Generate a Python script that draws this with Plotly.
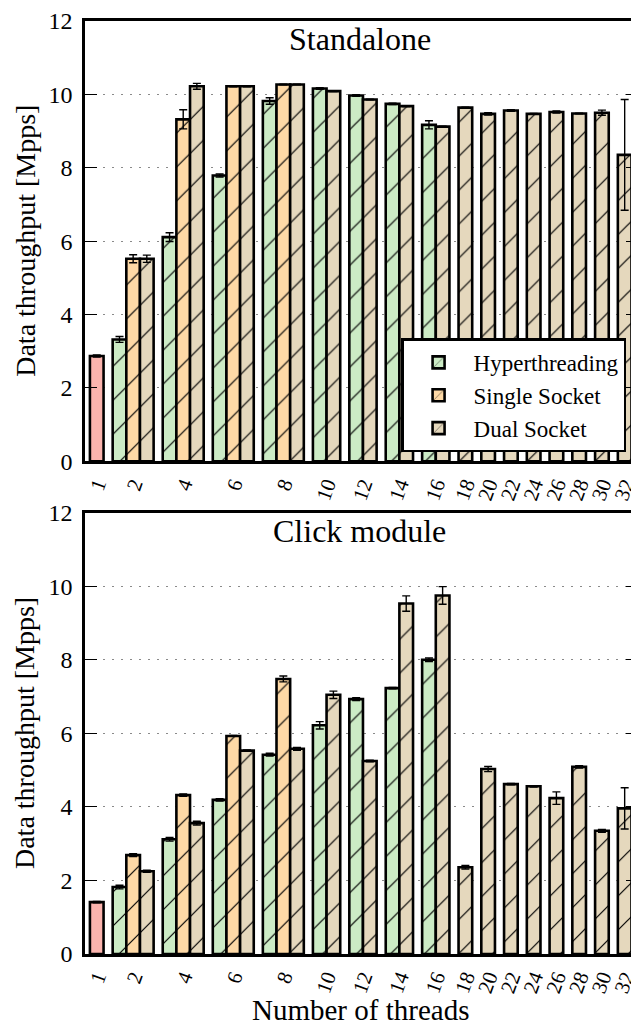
import plotly.graph_objects as go

# ---------------- data ----------------
threads = [1, 2, 4, 6, 8, 10, 12, 14, 16, 18, 20, 22, 24, 26, 28, 30, 32]
tick_labels = [str(t) for t in threads]

series_names = ["Single core", "Hyperthreading", "Single Socket", "Dual Socket"]
series_colors = ["#fbb4ae", "#ccebc5", "#fed9a6", "#e5d8bd"]
series_hatched = [False, True, True, True]

N = None
# Standalone panel
sa_single = [2.87, N, N, N, N, N, N, N, N, N, N, N, N, N, N, N, N]
sa_single_err = [0.03, N, N, N, N, N, N, N, N, N, N, N, N, N, N, N, N]
sa_ht = [N, 3.32, 6.11, 7.79, 9.82, 10.16, 9.97, 9.74, 9.17, N, N, N, N, N, N, N, N]
sa_ht_err = [N, 0.08, 0.12, 0.04, 0.09, 0.02, 0.02, 0.02, 0.11, N, N, N, N, N, N, N, N]
sa_ss = [N, 5.52, 9.32, 10.22, 10.27, N, N, N, N, N, N, N, N, N, N, N, N]
sa_ss_err = [N, 0.11, 0.26, 0.01, 0.01, N, N, N, N, N, N, N, N, N, N, N, N]
sa_ds = [N, 5.52, 10.22, 10.22, 10.27, 10.09, 9.86, 9.68, 9.12, 9.64, 9.47, 9.56, 9.47, 9.52, 9.48, 9.50, 8.35]
sa_ds_err = [N, 0.10, 0.08, 0.01, 0.01, 0.01, 0.01, 0.01, 0.01, 0.01, 0.03, 0.02, 0.01, 0.03, 0.01, 0.07, 1.51]

# Click module panel
cm_single = [1.41, N, N, N, N, N, N, N, N, N, N, N, N, N, N, N, N]
cm_single_err = [0.02, N, N, N, N, N, N, N, N, N, N, N, N, N, N, N, N]
cm_ht = [N, 1.82, 3.12, 4.19, 5.42, 6.22, 6.93, 7.23, 8.00, N, N, N, N, N, N, N, N]
cm_ht_err = [N, 0.05, 0.05, 0.03, 0.04, 0.10, 0.04, 0.02, 0.05, N, N, N, N, N, N, N, N]
cm_ss = [N, 2.69, 4.32, 5.93, 7.48, N, N, N, N, N, N, N, N, N, N, N, N]
cm_ss_err = [N, 0.04, 0.03, 0.01, 0.08, N, N, N, N, N, N, N, N, N, N, N, N]
cm_ds = [N, 2.25, 3.56, 5.53, 5.58, 7.05, 5.25, 9.53, 9.75, 2.36, 5.03, 4.62, 4.56, 4.24, 5.09, 3.35, 3.96]
cm_ds_err = [N, 0.03, 0.05, 0.02, 0.04, 0.10, 0.02, 0.21, 0.24, 0.05, 0.07, 0.02, 0.02, 0.17, 0.03, 0.04, 0.56]

panels = [
    ("Standalone", [sa_single, sa_ht, sa_ss, sa_ds], [sa_single_err, sa_ht_err, sa_ss_err, sa_ds_err]),
    ("Click module", [cm_single, cm_ht, cm_ss, cm_ds], [cm_single_err, cm_ht_err, cm_ss_err, cm_ds_err]),
]

# ---------------- layout of bar slots ----------------
GAP = 0.667
PAD = 0.36
positions = [[None] * len(threads) for _ in series_names]
centers = []
off = 0.0
for i in range(len(threads)):
    present = [s for s in range(len(series_names)) if panels[0][1][s][i] is not None]
    for k, s in enumerate(present):
        positions[s][i] = off + k + 0.5
    centers.append(off + len(present) / 2)
    off += len(present) + GAP
x_range = [-PAD, off - GAP + 0.11]

FONT = "Liberation Serif, serif"
fig = go.Figure()

for p, (title, vals, errs) in enumerate(panels):
    xa = "x" if p == 0 else "x2"
    ya = "y" if p == 0 else "y2"
    for s in range(len(series_names)):
        xs, ys, es = [], [], []
        for i in range(len(threads)):
            if vals[s][i] is not None:
                xs.append(positions[s][i])
                ys.append(vals[s][i])
                es.append(errs[s][i])
        marker = dict(color=series_colors[s], line=dict(color="black", width=2.6))
        if series_hatched[s]:
            marker["pattern"] = dict(shape="/", size=24, solidity=0.05,
                                     fgcolor="black", fgopacity=1, fillmode="overlay")
        fig.add_trace(go.Bar(
            x=xs, y=ys, width=1.0, name=series_names[s],
            marker=marker,
            error_y=dict(type="data", array=es, color="black", thickness=1.4, width=4),
            xaxis=xa, yaxis=ya,
            showlegend=(p == 0 and s > 0),
            legendrank=s,
        ))

grid = dict(showgrid=True, gridcolor="#8a8a8a", gridwidth=1.3, griddash="2px,7px")
yax = dict(range=[0, 12], tickvals=[0, 2, 4, 6, 8, 10, 12], ticks="inside", ticklen=12,
           tickwidth=1.4, tickcolor="black", showline=True,
           linecolor="black", linewidth=2.6,
           zeroline=False, ticklabelstandoff=5,
           tickfont=dict(family=FONT, size=24, color="black"), **grid)
xax = dict(range=x_range, tickmode="array", tickvals=centers, ticktext=tick_labels,
           tickangle=-70, ticks="", showline=True, mirror=True, linecolor="black",
           linewidth=2.6, showgrid=False, zeroline=False, ticklabeloverflow="allow",
           tickfont=dict(family=FONT, size=21, color="black"))
right = dict(range=[0, 12], tickvals=[0, 2, 4, 6, 8, 10, 12], ticks="inside", ticklen=7,
             tickwidth=1.4, tickcolor="black", showline=False, showgrid=False,
             showticklabels=False, zeroline=False, side="right")

# plot area spans page y 11..954 (943 px)
PLOT_H = 943.0
def py(page_y):
    return (954.0 - page_y) / PLOT_H

PLOT_W = 554.0
def px(page_x):
    return (page_x - 85.0) / PLOT_W

top_dom = [py(456), 1.0]
bot_dom = [0.0, py(508)]

# the page has an 8px body margin: size the figure so the plot lands where the reference has it
fig.update_layout(
    width=631, height=1018,
    margin=dict(l=77, r=0, t=3, b=72),
    paper_bgcolor="white", plot_bgcolor="white",
    barmode="overlay",
    font=dict(family=FONT, color="black"),
    xaxis=dict(anchor="y", domain=[0, 1], **xax),
    xaxis2=dict(anchor="y2", domain=[0, 1], **xax),
    yaxis=dict(anchor="x", domain=top_dom, **yax),
    yaxis2=dict(anchor="x2", domain=bot_dom, **yax),
    yaxis3=dict(overlaying="y", anchor="x", **right),
    yaxis4=dict(overlaying="y2", anchor="x2", **right),
    legend=dict(x=px(632), y=py(447), xanchor="right", yanchor="bottom",
                bgcolor="white", bordercolor="black", borderwidth=2.5,
                font=dict(family=FONT, size=23, color="black"),
                tracegroupgap=0, itemwidth=60),
    showlegend=True,
)

annotations = [
    dict(text="Standalone", x=px(363), y=py(29), xref="paper", yref="paper",
         xanchor="center", yanchor="middle",
         showarrow=False, font=dict(family=FONT, size=32)),
    dict(text="Click module", x=px(363), y=py(526), xref="paper", yref="paper",
         xanchor="center", yanchor="middle",
         showarrow=False, font=dict(family=FONT, size=32)),
    dict(text="Data throughput [Mpps]", x=px(24), y=(top_dom[0] + top_dom[1]) / 2,
         xref="paper", yref="paper", textangle=-90, showarrow=False,
         xanchor="center", yanchor="middle",
         font=dict(family=FONT, size=28)),
    dict(text="Data throughput [Mpps]", x=px(24), y=(bot_dom[0] + bot_dom[1]) / 2,
         xref="paper", yref="paper", textangle=-90, showarrow=False,
         xanchor="center", yanchor="middle",
         font=dict(family=FONT, size=28)),
    dict(text="Number of threads", x=px(364), y=py(1011), xref="paper", yref="paper",
         xanchor="center", yanchor="middle",
         showarrow=False, font=dict(family=FONT, size=29)),
]
fig.update_layout(annotations=annotations)

# invisible traces to activate the right-hand tick axes
fig.add_trace(go.Scatter(x=[centers[0]], y=[0], xaxis="x", yaxis="y3", mode="markers",
                         marker=dict(opacity=0), showlegend=False, hoverinfo="skip"))
fig.add_trace(go.Scatter(x=[centers[0]], y=[0], xaxis="x2", yaxis="y4", mode="markers",
                         marker=dict(opacity=0), showlegend=False, hoverinfo="skip"))

fig.write_html("out.html")
